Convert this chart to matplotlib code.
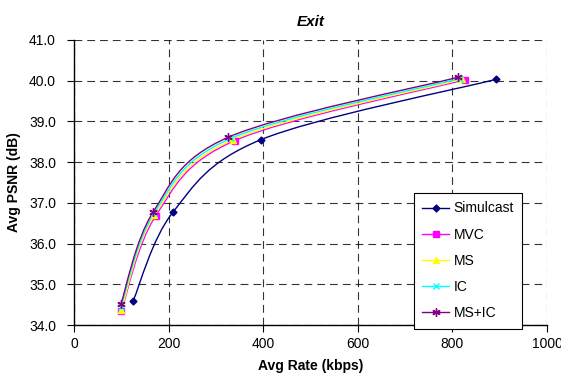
import matplotlib
matplotlib.use("Agg")
import matplotlib.pyplot as plt
from matplotlib.path import Path
from matplotlib.patches import PathPatch
from matplotlib.lines import Line2D

plt.rcParams.update({
    "font.family": ["Liberation Sans", "DejaVu Sans"],
    "font.size": 10,
})

# rate (kbps) / PSNR (dB) per scheme
series = ["Simulcast", "MVC", "MS", "IC", "MS+IC"]
rate_simulcast = [125, 209, 395, 892]
psnr_simulcast = [34.60, 36.77, 38.55, 40.03]
rate_mvc = [100, 173, 340, 826]
psnr_mvc = [34.35, 36.69, 38.53, 40.02]
rate_ms = [100, 170, 336, 820]
psnr_ms = [34.38, 36.70, 38.55, 40.03]
rate_ic = [99, 169, 331, 816]
psnr_ic = [34.45, 36.74, 38.58, 40.05]
rate_msic = [99, 167, 326, 811]
psnr_msic = [34.52, 36.77, 38.61, 40.08]

rates = [rate_simulcast, rate_mvc, rate_ms, rate_ic, rate_msic]
psnrs = [psnr_simulcast, psnr_mvc, psnr_ms, psnr_ic, psnr_msic]
colors = ["#000080", "#FF00FF", "#FFFF00", "#00FFFF", "#800080"]
markers = ["D", "s", "^", "x", (6, 2, 0)]
msizes = [3.5, 4.5, 4.5, 5, 6]


def smooth_path(xs, ys):
    # Excel-style smoothed line: cubic Bezier through the points
    pts = list(zip(xs, ys))
    n = len(pts)
    verts = [pts[0]]
    codes = [Path.MOVETO]
    for i in range(n - 1):
        p0 = pts[i - 1] if i > 0 else pts[i]
        p1 = pts[i]
        p2 = pts[i + 1]
        p3 = pts[i + 2] if i + 2 < n else pts[i + 1]
        c1 = (p1[0] + (p2[0] - p0[0]) / 6, p1[1] + (p2[1] - p0[1]) / 6)
        c2 = (p2[0] - (p3[0] - p1[0]) / 6, p2[1] - (p3[1] - p1[1]) / 6)
        verts += [c1, c2, p2]
        codes += [Path.CURVE4] * 3
    return Path(verts, codes)


fig = plt.figure(figsize=(5.61, 3.83), dpi=100)
ax = fig.add_axes([0.132, 0.151, 0.843, 0.745])

handles = []
for name, xs, ys, c, m, ms in zip(series, rates, psnrs, colors, markers, msizes):
    ax.add_patch(PathPatch(smooth_path(xs, ys), facecolor="none", edgecolor=c,
                           lw=1.0, zorder=3))
    ax.plot(xs, ys, ls="none", marker=m, color=c, ms=ms, mew=1.0, zorder=4)
    handles.append(Line2D([], [], color=c, lw=1.0, marker=m, ms=ms, mew=1.0, label=name))

ax.set_xlim(0, 1000)
ax.set_ylim(34, 41)
ax.set_xticks(range(0, 1001, 200))
ax.set_yticks(range(34, 42))
ax.set_yticklabels([f"{v:.1f}" for v in range(34, 42)])
ax.grid(True, color="black", ls=(0, (7, 4.5)), lw=0.8, alpha=0.8)
ax.set_axisbelow(True)
for s in ("top", "right"):
    ax.spines[s].set_visible(False)
for s in ("left", "bottom"):
    ax.spines[s].set_linewidth(1.0)
ax.tick_params(direction="out", length=5, width=0.8, colors="black", labelsize=10)
ax.tick_params(axis="y", pad=8)

ax.set_xlabel("Avg Rate (kbps)", fontweight="bold", fontsize=10, labelpad=6)
ax.set_ylabel("Avg PSNR (dB)", fontweight="bold", fontsize=10, labelpad=6)
ax.set_title("Exit", fontweight="bold", fontstyle="italic", fontsize=11, pad=10)

leg = ax.legend(handles=handles, loc="lower right", bbox_to_anchor=(0.948, -0.012),
                fancybox=False, framealpha=1, edgecolor="black", fontsize=10,
                handlelength=1.9, handletextpad=0.35, labelspacing=0.88,
                borderpad=0.6, borderaxespad=0)
leg.get_frame().set_linewidth(0.8)

fig.savefig("out.png", facecolor="white")
